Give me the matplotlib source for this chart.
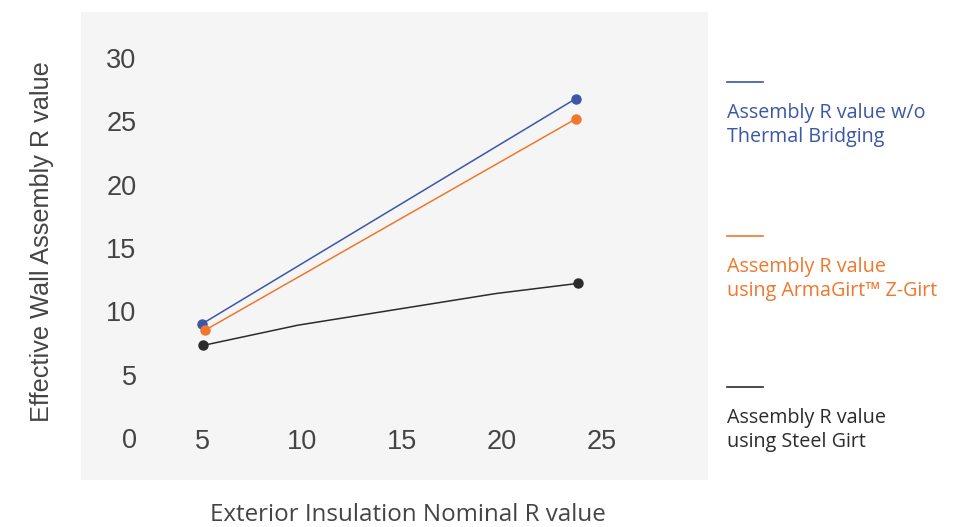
import matplotlib
matplotlib.use('Agg')
import matplotlib.pyplot as plt
from matplotlib.patches import Rectangle
from matplotlib.lines import Line2D

# Data
series_names = ['Assembly R value w/o\nThermal Bridging',
                'Assembly R value\nusing ArmaGirt\u2122 Z-Girt',
                'Assembly R value\nusing Steel Girt']
series_colors = ['#3b57a6', '#f0772b', '#2b2b2b']

no_bridging_x = [5.0, 23.7]
no_bridging_y = [9.0, 26.8]
armagirt_x = [5.15, 23.7]
armagirt_y = [8.5, 25.2]
steel_x = [5.05, 9.8, 19.7, 23.8]
steel_y = [7.3, 8.9, 11.4, 12.2]

x_ticks = [5, 10, 15, 20, 25]
y_ticks = [0, 5, 10, 15, 20, 25, 30]

W, H = 958, 527
fig = plt.figure(figsize=(W / 100, H / 100), dpi=100)
fig.patch.set_facecolor('white')

# light grey plot panel
fig.add_artist(Rectangle((81 / W, 1 - 480 / H), (708 - 81) / W, (480 - 12) / H,
                         transform=fig.transFigure, facecolor='#f5f5f5',
                         edgecolor='none', zorder=0))

ax = fig.add_axes([147 / W, 1 - 448 / H, (697 - 147) / W, (448 - 58) / H])
ax.set_facecolor('none')
ax.set_xlim(2.25, 29.75)
ax.set_ylim(-0.8, 30)
for s in ax.spines.values():
    s.set_visible(False)

all_x = [no_bridging_x, armagirt_x, steel_x]
all_y = [no_bridging_y, armagirt_y, steel_y]
for xs, ys, c in zip(all_x, all_y, series_colors):
    ax.plot(xs, ys, color=c, lw=1.1, marker='o', ms=6.5,
            markevery=[0, len(xs) - 1], clip_on=False)

ax.set_xticks(x_ticks)
ax.set_yticks(y_ticks)
ax.tick_params(length=0, labelsize=19.5, labelcolor='#444444')
ax.tick_params(axis='y', pad=7.5)
ax.tick_params(axis='x', pad=-14)
for lab in ax.get_xticklabels() + ax.get_yticklabels():
    lab.set_fontfamily('Liberation Sans')

fig.text(42 / W, 1 - 242 / H, 'Effective Wall Assembly R value', rotation=90,
         ha='center', va='center', fontsize=18.2, color='#444444',
         family='Liberation Sans')
fig.text(408 / W, 1 - 515 / H, 'Exterior Insulation Nominal R value',
         ha='center', va='center', fontsize=17.4, color='#444444',
         family='Open Sans')

# legend on the right
legend_line_y = [82, 236, 387]
for name, c, ly in zip(series_names, series_colors, legend_line_y):
    fig.add_artist(Line2D([727 / W, 763 / W], [1 - ly / H, 1 - ly / H],
                          transform=fig.transFigure, color=c, lw=1.2))
    fig.text(727 / W, 1 - (ly + 43) / H, name, ha='left', va='center',
             fontsize=14.2, color=c, family='Open Sans', linespacing=1.3)

fig.savefig('out.png', dpi=100)
